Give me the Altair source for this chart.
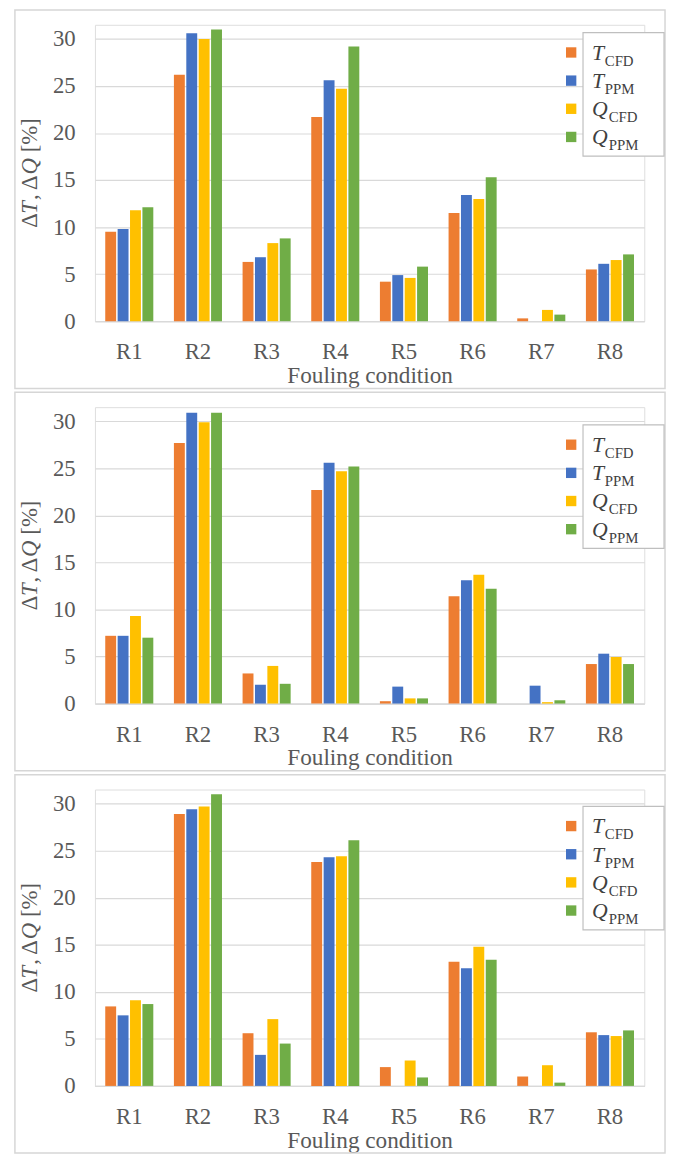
import altair as alt
import pandas as pd

conditions = ["R1", "R2", "R3", "R4", "R5", "R6", "R7", "R8"]
series = ["T_CFD", "T_PPM", "Q_CFD", "Q_PPM"]
legend_main = ["T", "T", "Q", "Q"]
legend_sub = ["CFD", "PPM", "CFD", "PPM"]
colors = ["#ED7D31", "#4472C4", "#FFC000", "#70AD47"]
ytitle_parts = ["Δ", "T", ", Δ", "Q", "[%]"]
ytitle_italic = [False, True, False, True, False]

# Panel 1
p1_t_cfd = [9.5, 26.2, 6.3, 21.7, 4.2, 11.5, 0.3, 5.5]
p1_t_ppm = [9.8, 30.6, 6.8, 25.6, 4.9, 13.4, 0.0, 6.1]
p1_q_cfd = [11.8, 30.0, 8.3, 24.7, 4.6, 13.0, 1.2, 6.5]
p1_q_ppm = [12.1, 31.0, 8.8, 29.2, 5.8, 15.3, 0.7, 7.1]
# Panel 2
p2_t_cfd = [7.2, 27.7, 3.2, 22.7, 0.25, 11.4, 0.0, 4.2]
p2_t_ppm = [7.2, 30.9, 2.0, 25.6, 1.8, 13.1, 1.9, 5.3]
p2_q_cfd = [9.3, 29.9, 4.0, 24.7, 0.55, 13.7, 0.15, 4.95]
p2_q_ppm = [7.0, 30.9, 2.1, 25.2, 0.55, 12.2, 0.35, 4.2]
# Panel 3
p3_t_cfd = [8.45, 28.9, 5.6, 23.8, 2.0, 13.2, 1.0, 5.7]
p3_t_ppm = [7.5, 29.4, 3.3, 24.3, 0.0, 12.5, 0.0, 5.4]
p3_q_cfd = [9.1, 29.7, 7.1, 24.4, 2.7, 14.8, 2.2, 5.3]
p3_q_ppm = [8.7, 31.0, 4.5, 26.1, 0.9, 13.4, 0.35, 5.9]

panels = [
    [p1_t_cfd, p1_t_ppm, p1_q_cfd, p1_q_ppm],
    [p2_t_cfd, p2_t_ppm, p2_q_cfd, p2_q_ppm],
    [p3_t_cfd, p3_t_ppm, p3_q_cfd, p3_q_ppm],
]
legend_tops = [8, 18, 17]

W, H = 556, 300
YMAX = 31.5
FONT = "Liberation Serif"
GRID = "#d9d9d9"
LABEL = "#595959"
TFS = 23  # y title font size
one = pd.DataFrame({"k": [0]})

# approximate advance widths (em) for the y-title pieces (incl. following gap)
piece_em = [0.62, 0.60, 1.12, 0.98, 1.5]


def make_panel(vals, ltop):
    rows = []
    for s, arr in zip(series, vals):
        for c, v in zip(conditions, arr):
            rows.append({"cond": c, "series": s, "val": v})
    df = pd.DataFrame(rows)

    border = alt.Chart(one).mark_rect(
        fillOpacity=0, stroke="#d6d6d6", strokeWidth=1.5
    ).encode(
        x=alt.value(-81), x2=alt.value(W + 21),
        y=alt.value(-15), y2=alt.value(H + 68),
    )

    bars = alt.Chart(df).mark_bar().encode(
        x=alt.X(
            "cond:N", sort=conditions,
            scale=alt.Scale(paddingInner=0.3, paddingOuter=0.15),
            axis=alt.Axis(
                title="Fouling condition", labelAngle=0, ticks=False,
                domainColor=GRID, domainWidth=1.2, labelPadding=20, titlePadding=0,
                labelFont=FONT, labelFontSize=23, labelColor=LABEL,
                titleFont=FONT, titleFontSize=23.5, titleColor=LABEL,
                titleFontWeight="normal",
            ),
        ),
        xOffset=alt.XOffset("series:N", sort=series,
                            scale=alt.Scale(paddingInner=0.12)),
        y=alt.Y(
            "val:Q",
            scale=alt.Scale(domain=[0, YMAX], nice=False),
            axis=alt.Axis(
                values=[0, 5, 10, 15, 20, 25, 30], title=None,
                grid=True, gridColor=GRID, gridWidth=1.2, domain=False, ticks=False,
                labelPadding=20,
                labelFont=FONT, labelFontSize=23, labelColor=LABEL,
            ),
        ),
        color=alt.Color("series:N", sort=series,
                        scale=alt.Scale(domain=series, range=colors),
                        legend=None),
    )

    # y-axis title built from pieces (italic T and Q)
    total = sum(piece_em) * TFS
    ypos = H / 2 + total / 2
    title_layers = []
    for part, ital, em in zip(ytitle_parts, ytitle_italic, piece_em):
        title_layers.append(
            alt.Chart(one).mark_text(
                text=part, font=FONT, fontSize=TFS, angle=270,
                fontStyle="italic" if ital else "normal",
                align="left", baseline="middle", color=LABEL,
            ).encode(x=alt.value(-66), y=alt.value(ypos))
        )
        ypos -= em * TFS

    box = alt.Chart(one).mark_rect(
        fill="white", stroke="#bfbfbf", strokeWidth=1.2
    ).encode(
        x=alt.value(494), x2=alt.value(576),
        y=alt.value(ltop), y2=alt.value(ltop + 125),
    )

    layers = [border, bars, box] + title_layers
    for i in range(4):
        cy = ltop + 20 + i * 28.5
        layers.append(
            alt.Chart(one).mark_square(size=110, color=colors[i], opacity=1)
            .encode(x=alt.value(482), y=alt.value(cy))
        )
        layers.append(
            alt.Chart(one).mark_text(
                text=legend_main[i], font=FONT, fontStyle="italic", fontSize=22,
                align="left", baseline="alphabetic", color="#404040",
            ).encode(x=alt.value(503), y=alt.value(cy + 7.5))
        )
        sub_x = 516 if legend_main[i] == "T" else 520
        layers.append(
            alt.Chart(one).mark_text(
                text=legend_sub[i], font=FONT, fontSize=15,
                align="left", baseline="alphabetic", color="#404040",
            ).encode(x=alt.value(sub_x), y=alt.value(cy + 13.5))
        )

    return alt.layer(*layers).properties(width=W, height=H)


chart = alt.vconcat(
    *[make_panel(v, t) for v, t in zip(panels, legend_tops)], spacing=0
).properties(
    padding={"left": 5, "top": -7, "right": 0, "bottom": 0}
).configure_view(stroke=None).configure(background="white")

chart.save("out.html", embed_options={"renderer": "svg", "actions": False})
